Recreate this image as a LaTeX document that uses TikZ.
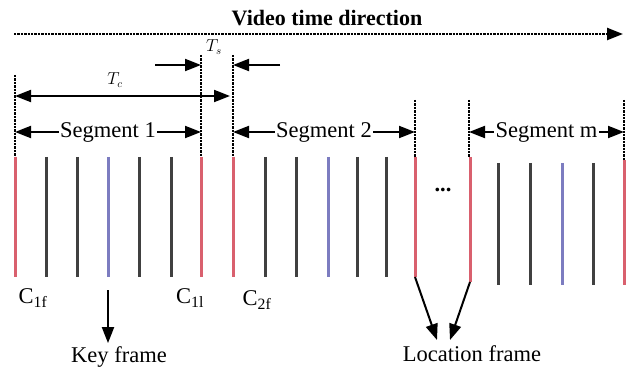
\documentclass[tikz,border=0pt]{standalone}
\usepackage{fontspec}
\setmainfont{Liberation Serif}
\usetikzlibrary{arrows.meta}
\definecolor{fred}{HTML}{D9606E}
\definecolor{fblue}{HTML}{7C7CC0}
\definecolor{fgray}{HTML}{404040}
\begin{document}
\begin{tikzpicture}[x=1pt,y=-1pt,
  tipend/.style={-{Triangle[length=16pt,width=12pt]}},
  tipboth/.style={{Triangle[length=16pt,width=12pt]}-{Triangle[length=16pt,width=12pt]}},
  guide/.style={densely dotted, line width=2.4pt, black},
  fr/.style={line width=3pt, fgray},
  rfr/.style={line width=3pt, fred},
  bfr/.style={line width=3pt, fblue},
  big/.style={font=\fontsize{22.5}{24}\selectfont},
  seglabel/.style={big, fill=white, inner sep=1.5pt},
  conn/.style={line width=2pt, black, tipend}]
\useasboundingbox (0,0) rectangle (633,369);
% title
\node[font=\fontsize{22}{24}\selectfont\bfseries] (title) at (327,18) {Video time direction};
\coordinate (ta) at (14,34);
\coordinate (tb) at (623,34);
\draw[guide, tipend] (ta) -- (tb);
% dotted guides
\foreach \n/\x/\ya/\yb in {g1/15/75/157, g2/201/55/157, g3/233/55/157, g4/415/100/157, g5/469/100/157, g6/624/100/160}{
  \coordinate (\n a) at (\x,\ya);
  \coordinate (\n b) at (\x,\yb);
  \draw[guide] (\n a) -- (\n b);
}
% Ts
\node[font=\fontsize{16}{18}\selectfont] (ts) at (214,47) {$T_s$};
\coordinate (tsl) at (155,65);
\coordinate (tsla) at (201,65);
\coordinate (tsr) at (280,65);
\coordinate (tsra) at (233,65);
\draw[line width=2pt, tipend] (tsl) -- (tsla);
\draw[line width=2pt, tipend] (tsr) -- (tsra);
% Tc
\node[font=\fontsize{16}{18}\selectfont] (tc) at (115,80) {$T_c$};
\coordinate (tca) at (15,96);
\coordinate (tcb) at (230,96);
\draw[line width=2pt, tipboth] (tca) -- (tcb);
% segments
\coordinate (s1a) at (15,132);
\coordinate (s1b) at (201,132);
\coordinate (s2a) at (233,132);
\coordinate (s2b) at (415,132);
\coordinate (sma) at (469,132);
\coordinate (smb) at (624,132);
\draw[line width=2pt, tipboth] (s1a) -- node[seglabel] (seg1) {Segment 1} (s1b);
\draw[line width=2pt, tipboth] (s2a) -- node[seglabel] (seg2) {Segment 2} (s2b);
\draw[line width=2pt, tipboth] (sma) -- node[seglabel] (segm) {Segment m} (smb);
% frames
\foreach \n/\x/\st/\ya/\yb in {
  a1/15/rfr/157/277, a2/46/fr/157/277, a3/77/fr/157/277, a4/108/bfr/157/277, a5/139/fr/157/277, a6/171/fr/157/277, a7/201/rfr/157/277,
  b1/233/rfr/157/277, b2/265/fr/157/277, b3/296/fr/157/277, b4/328/bfr/157/277, b5/357/fr/157/277, b6/386/fr/157/277, b7/415/rfr/157/277,
  c1/470/rfr/157/282, c2/498/fr/163/285, c3/530/fr/163/285, c4/562/bfr/163/285, c5/593/fr/163/285, c6/624/rfr/160/285}{
  \coordinate (\n t) at (\x,\ya);
  \coordinate (\n b) at (\x,\yb);
  \draw[\st] (\n t) -- (\n b);
}
\node[big] (dots) at (443,190) {\textbf{...}};
% labels
\node[big] (c1f) at (33,298) {C\textsubscript{1f}};
\node[big] (c1l) at (190,298) {C\textsubscript{1l}};
\node[big] (c2f) at (257,300) {C\textsubscript{2f}};
% key frame
\coordinate (kfa) at (108,290);
\node[big] (kf) at (119,357) {Key frame};
\draw[conn] (kfa) -- (kf.north -| kfa);
% location frame
\node[big] (lf) at (472,354) {Location frame};
\coordinate (lfa) at (437,340);
\coordinate (lfb) at (450,340);
\draw[conn] (b7b) -- (lfa);
\draw[conn] (c1b) -- (lfb);
\end{tikzpicture}
\end{document}
